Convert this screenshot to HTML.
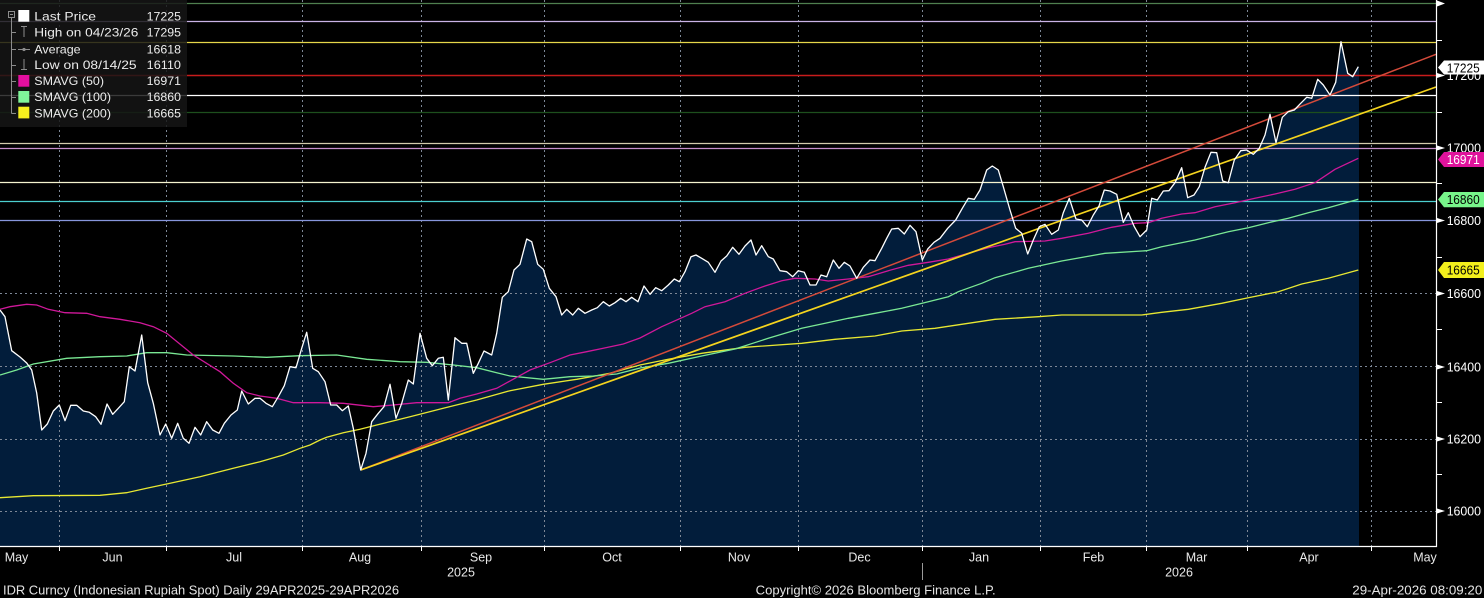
<!DOCTYPE html>
<html>
<head>
<meta charset="utf-8">
<style>
html,body{margin:0;padding:0;background:#000;}
body{width:1484px;height:598px;overflow:hidden;}
svg{display:block;}
text{font-family:"Liberation Sans","DejaVu Sans",sans-serif;}
</style>
</head>
<body>
<svg width="1484" height="598" viewBox="0 0 1484 598" xmlns="http://www.w3.org/2000/svg">
<rect x="0" y="0" width="1484" height="598" fill="#000"/>

<!-- price area fill -->
<polygon fill="#021d3b" points="0,310 5,316.7 11.7,350.7 20,357 26.7,363 31.7,370 36.7,393 41.7,430 47.3,424 53.3,411 59.3,405 65,420.7 70.7,405.3 76.7,405.3 83.3,411 89.3,412.3 95.7,416.7 101,424.3 107,404 112.7,414.3 118.3,408.3 124.3,401.7 129.3,366.7 135,371 141.7,335 147.7,382.7 153.3,403.3 160,435 165.7,424 171.7,438.3 177.7,423.3 183.3,438.3 189,443.3 195,427.3 200.7,435 206.7,421.7 212.7,430 219,433.3 224.3,423.3 231,415 237.3,410 241.7,391 248.3,404 255,398.3 260,398.3 266,403.3 272.3,406.7 278.3,396.7 284.3,385.7 290,366.7 296,367.7 301.7,348.3 306.7,332.3 312.7,368.3 318.3,371.7 325,381.7 330.7,405 336.7,405 342.3,410.7 348.3,406 353.3,428.3 360.7,470 366,453.3 371.7,421.7 378.3,413.3 384,406.7 390,384.3 396,418.3 401.7,403.3 408.3,380 413.3,384 420,333.3 426.7,358.3 432.3,365.7 438.3,358.3 443.3,357.3 448.3,400 455,337.7 461.7,343.3 466.7,343.3 473.3,373.3 478.3,363.3 484,351 491.7,355 496.7,333.3 502.3,297.3 508.3,291.7 514,270 520,264.3 526.7,239 531.7,241.7 537.7,264.3 543.3,269.3 549.3,288.3 556,296.7 561.7,315 566.7,309.3 572.7,315 578.3,308.3 585,313.3 591.7,310 597.3,307.7 603.3,301.7 609.3,306 615,302.7 620.7,298.3 626,301.7 631.7,297.3 638,301.7 644,286 650,294.3 655.7,287.7 661.7,290.7 668.3,285 674.3,279 679.3,281.7 685,271.7 691,256.7 696,255 701.7,258.3 708.3,262.3 715,272.3 721,261 726.7,256 732.7,247.3 739,254.3 745,246 751,240 756,255 761.7,245.7 768.3,256.7 773.3,259 780,270.7 786.7,271.7 792.7,276.7 798.3,270.7 804.3,272.3 810,285 816,285 821,275 826.7,276.7 833.3,260 839,268.3 844.3,262.3 850,266 856.7,278.3 863.3,267.3 870,260 875,260.7 881.7,248.3 886.7,238.3 891.7,229 898.3,228.3 904.3,234 910,225.3 916,231.7 922.3,260 927.7,249 934,242.3 940,238.3 947.7,228.3 955.7,220 962.3,208.3 968.3,198.3 974.3,199.3 980,190 986.7,170 992.3,166 998.3,170 1003.3,186.7 1010,210 1015.7,228.3 1021.7,233.3 1027.7,254 1033.3,240 1039.3,226.7 1045,224.3 1051.7,234.3 1058.3,230 1063.3,212.7 1069.3,198.3 1076,219 1081.7,220 1087.3,226.7 1093.3,215 1099,206 1104.3,190 1110,191 1116.7,194.3 1123.3,222.3 1128.3,212.7 1134.3,226.7 1140,236.7 1146.7,230 1151.7,198.3 1157.3,200 1163.3,191 1169,190.7 1175,182.7 1181.7,167.7 1187.7,197.7 1194,195 1199.3,186.7 1205,167.3 1211,152.3 1216.7,152.7 1222.7,181 1228.3,182.7 1234.3,160 1240.7,150.7 1246.7,150 1253.3,154.3 1259.3,148.3 1265,135 1270,114.3 1276,142.7 1282.3,117.3 1288.3,111.7 1294.3,110 1300.7,103.3 1306.7,97.3 1311.7,98.3 1317.7,79.3 1323.3,85 1330,95 1335.7,82.3 1341,41.7 1347.7,73.3 1352.7,76.7 1358.3,66.7 1359,66 1359,546 0,546"/>

<!-- grid -->
<g stroke="#7d8796" stroke-width="1" stroke-dasharray="2,3" fill="none">
<line x1="0" y1="511.5" x2="1436" y2="511.5"/>
<line x1="0" y1="439.5" x2="1436" y2="439.5"/>
<line x1="0" y1="366.5" x2="1436" y2="366.5"/>
<line x1="0" y1="293.5" x2="1436" y2="293.5"/>
<line x1="0" y1="220.5" x2="1436" y2="220.5"/>
<line x1="0" y1="148.5" x2="1436" y2="148.5"/>
<line x1="0" y1="75.5" x2="1436" y2="75.5"/>
<line x1="59.5" y1="0" x2="59.5" y2="546"/>
<line x1="166.5" y1="0" x2="166.5" y2="546"/>
<line x1="302.5" y1="0" x2="302.5" y2="546"/>
<line x1="421.5" y1="0" x2="421.5" y2="546"/>
<line x1="544.5" y1="0" x2="544.5" y2="546"/>
<line x1="680.5" y1="0" x2="680.5" y2="546"/>
<line x1="798.5" y1="0" x2="798.5" y2="546"/>
<line x1="922.5" y1="0" x2="922.5" y2="546"/>
<line x1="1040.5" y1="0" x2="1040.5" y2="546"/>
<line x1="1146.5" y1="0" x2="1146.5" y2="546"/>
<line x1="1247.5" y1="0" x2="1247.5" y2="546"/>
<line x1="1371.5" y1="0" x2="1371.5" y2="546"/>
</g>

<!-- horizontal level lines -->
<g stroke-width="1.2" fill="none">
<line x1="0" y1="3.5" x2="1436" y2="3.5" stroke="#4f7f4f"/>
<line x1="0" y1="21.5" x2="1436" y2="21.5" stroke="#c9b3e6"/>
<line x1="0" y1="42.5" x2="1436" y2="42.5" stroke="#e6d64a"/>
<line x1="0" y1="75.5" x2="1436" y2="75.5" stroke="#c81c1c" stroke-width="1.6"/>
<line x1="0" y1="95.5" x2="1436" y2="95.5" stroke="#ffffff"/>
<line x1="0" y1="112.5" x2="1436" y2="112.5" stroke="#1d4f1d"/>
<line x1="0" y1="143.5" x2="1436" y2="143.5" stroke="#d4ccac"/>
<line x1="0" y1="148.5" x2="1436" y2="148.5" stroke="#c68fc9"/>
<line x1="0" y1="182.5" x2="1436" y2="182.5" stroke="#f5f3cf"/>
<line x1="0" y1="201.5" x2="1436" y2="201.5" stroke="#4ccfcf"/>
<line x1="0" y1="220.5" x2="1436" y2="220.5" stroke="#8796db"/>
</g>

<!-- SMA 200 -->
<polyline fill="none" stroke="#e8e832" stroke-width="1.3" points="0,497.7 33.3,495.7 100,495.3 126.7,492.7 146.7,488.3 166.7,484 200,476.7 233.3,468.3 260,461.7 283.3,455 300,448.3 310,445 320,440 326.7,437.3 343.3,432.7 360,429.3 376.7,425 410,416.7 443.3,408.3 476.7,400 510,390.7 543.3,384.3 576.7,379.3 610,373.3 640,365 668.3,359.3 701.7,353.3 745,347.3 801.7,343.3 835,339.3 875,336 901.7,331 935,328.3 968.3,323.3 995,319.3 1038.3,316.7 1061.7,315 1141.7,315 1161.7,312.3 1188.3,309.3 1221.7,303.3 1248.3,297.7 1278.3,291.7 1301.7,284 1328.3,278.3 1358.3,270"/>
<!-- SMA 100 -->
<polyline fill="none" stroke="#7ae894" stroke-width="1.3" points="0,375 16.7,370 33.3,364 66.7,358.3 100,356.7 126.7,356 146.7,352.7 166.7,352.7 186.7,355 233.3,356 266.7,357.3 300,355.7 336.7,355 366.7,359.3 400,361.7 426.7,362.3 453.3,365 476.7,367.7 496.7,372.7 510,376 543.3,379.3 570,376.7 593.3,376 616.7,374 640,368 668.3,363.3 701.7,356 735,349 768.3,338.3 801.7,328.3 821.7,324 848.3,318.3 875,313.3 901.7,308.3 928.3,301.7 948.3,296.7 958.3,291.7 981.7,283.3 995,277.7 1028.3,268.3 1061.7,261 1105,253.3 1146.7,250.7 1161.7,246.7 1195,240 1228.3,231.7 1248.3,227.7 1268.3,222.7 1288.3,218.3 1308.3,212.7 1328.3,207.7 1358.3,199.3"/>
<!-- SMA 50 -->
<polyline fill="none" stroke="#d0189a" stroke-width="1.3" points="0,309.3 10,306.7 26.7,304.3 36.7,305 48.3,309.3 65,312.7 86.7,313.3 100,316.7 120,319.3 140,322.7 153.3,326.7 166.7,333.3 193.3,355 220,371.7 233.3,383.3 246.7,392.7 260,396 276.7,398.3 293.3,402.7 320,402.7 343.3,403.3 373.3,406.7 393.3,405 416.7,402.7 448.3,402.7 460,398.3 476.7,394 496.7,388.3 516.7,377.3 530,370 550,362.7 570,355 586.7,351.7 603.3,348.3 623.3,344 640,338 661.7,326.7 678.3,319.3 691.7,313.3 705,306.7 725,301.7 745,293.3 765,286 781.7,280.7 795,278.3 815,279 828.3,281 848.3,279 868.3,276.7 888.3,270.7 908.3,265.3 928.3,262.3 948.3,259 968.3,253.3 988.3,247.7 1005,244.3 1015,241.7 1045,241 1061.7,238.3 1088.3,233.3 1111.7,227.3 1135,223.3 1148.3,222.7 1161.7,218.3 1181.7,214 1195,212.7 1215,206.7 1235,202.7 1255,198.3 1275,194 1295,189.3 1315,182.7 1335,169.3 1358.3,158.3"/>

<!-- trend lines -->
<line x1="360.7" y1="470" x2="1436" y2="54.3" stroke="#d44a3a" stroke-width="1.5"/>
<line x1="360.7" y1="470" x2="1436" y2="87" stroke="#f5d41e" stroke-width="1.7"/>

<!-- price line -->
<polyline fill="none" stroke="#ffffff" stroke-width="1.3" stroke-linejoin="round" points="0,310 5,316.7 11.7,350.7 20,357 26.7,363 31.7,370 36.7,393 41.7,430 47.3,424 53.3,411 59.3,405 65,420.7 70.7,405.3 76.7,405.3 83.3,411 89.3,412.3 95.7,416.7 101,424.3 107,404 112.7,414.3 118.3,408.3 124.3,401.7 129.3,366.7 135,371 141.7,335 147.7,382.7 153.3,403.3 160,435 165.7,424 171.7,438.3 177.7,423.3 183.3,438.3 189,443.3 195,427.3 200.7,435 206.7,421.7 212.7,430 219,433.3 224.3,423.3 231,415 237.3,410 241.7,391 248.3,404 255,398.3 260,398.3 266,403.3 272.3,406.7 278.3,396.7 284.3,385.7 290,366.7 296,367.7 301.7,348.3 306.7,332.3 312.7,368.3 318.3,371.7 325,381.7 330.7,405 336.7,405 342.3,410.7 348.3,406 353.3,428.3 360.7,470 366,453.3 371.7,421.7 378.3,413.3 384,406.7 390,384.3 396,418.3 401.7,403.3 408.3,380 413.3,384 420,333.3 426.7,358.3 432.3,365.7 438.3,358.3 443.3,357.3 448.3,400 455,337.7 461.7,343.3 466.7,343.3 473.3,373.3 478.3,363.3 484,351 491.7,355 496.7,333.3 502.3,297.3 508.3,291.7 514,270 520,264.3 526.7,239 531.7,241.7 537.7,264.3 543.3,269.3 549.3,288.3 556,296.7 561.7,315 566.7,309.3 572.7,315 578.3,308.3 585,313.3 591.7,310 597.3,307.7 603.3,301.7 609.3,306 615,302.7 620.7,298.3 626,301.7 631.7,297.3 638,301.7 644,286 650,294.3 655.7,287.7 661.7,290.7 668.3,285 674.3,279 679.3,281.7 685,271.7 691,256.7 696,255 701.7,258.3 708.3,262.3 715,272.3 721,261 726.7,256 732.7,247.3 739,254.3 745,246 751,240 756,255 761.7,245.7 768.3,256.7 773.3,259 780,270.7 786.7,271.7 792.7,276.7 798.3,270.7 804.3,272.3 810,285 816,285 821,275 826.7,276.7 833.3,260 839,268.3 844.3,262.3 850,266 856.7,278.3 863.3,267.3 870,260 875,260.7 881.7,248.3 886.7,238.3 891.7,229 898.3,228.3 904.3,234 910,225.3 916,231.7 922.3,260 927.7,249 934,242.3 940,238.3 947.7,228.3 955.7,220 962.3,208.3 968.3,198.3 974.3,199.3 980,190 986.7,170 992.3,166 998.3,170 1003.3,186.7 1010,210 1015.7,228.3 1021.7,233.3 1027.7,254 1033.3,240 1039.3,226.7 1045,224.3 1051.7,234.3 1058.3,230 1063.3,212.7 1069.3,198.3 1076,219 1081.7,220 1087.3,226.7 1093.3,215 1099,206 1104.3,190 1110,191 1116.7,194.3 1123.3,222.3 1128.3,212.7 1134.3,226.7 1140,236.7 1146.7,230 1151.7,198.3 1157.3,200 1163.3,191 1169,190.7 1175,182.7 1181.7,167.7 1187.7,197.7 1194,195 1199.3,186.7 1205,167.3 1211,152.3 1216.7,152.7 1222.7,181 1228.3,182.7 1234.3,160 1240.7,150.7 1246.7,150 1253.3,154.3 1259.3,148.3 1265,135 1270,114.3 1276,142.7 1282.3,117.3 1288.3,111.7 1294.3,110 1300.7,103.3 1306.7,97.3 1311.7,98.3 1317.7,79.3 1323.3,85 1330,95 1335.7,82.3 1341,41.7 1347.7,73.3 1352.7,76.7 1358.3,66.7"/>

<!-- legend -->
<rect x="0" y="0" width="187" height="127" fill="#161616" fill-opacity="0.84"/>
<g stroke="#8c8c8c" stroke-width="1" fill="none">
<rect x="8.5" y="11.5" width="6" height="6"/>
<line x1="10" y1="14.5" x2="13" y2="14.5"/>
<line x1="11.5" y1="18" x2="11.5" y2="113.5"/>
<line x1="11.5" y1="32.5" x2="16" y2="32.5"/>
<line x1="11.5" y1="49.5" x2="16" y2="49.5"/>
<line x1="11.5" y1="65.5" x2="16" y2="65.5"/>
<line x1="11.5" y1="81.5" x2="16" y2="81.5"/>
<line x1="11.5" y1="97.5" x2="16" y2="97.5"/>
<line x1="11.5" y1="113.5" x2="16" y2="113.5"/>
<line x1="21" y1="26.5" x2="27" y2="26.5"/>
<line x1="24" y1="26.5" x2="24" y2="37"/>
<line x1="18" y1="49.5" x2="30" y2="49.5"/>
<line x1="24" y1="59" x2="24" y2="69.5"/>
<line x1="21" y1="69.5" x2="27" y2="69.5"/>
</g>
<circle cx="24" cy="49.5" r="1.6" fill="#8c8c8c"/>
<rect x="18.3" y="10" width="11" height="11.7" fill="#ffffff"/>
<rect x="18.3" y="75" width="11" height="11.7" fill="#e40fa0"/>
<rect x="18.3" y="91" width="11" height="11.7" fill="#80f59a"/>
<rect x="18.3" y="106.7" width="11" height="11.7" fill="#f7f01e"/>
<g fill="#ececec" font-size="12" lengthAdjust="spacingAndGlyphs">
<text x="34.3" y="20.7" textLength="61.7" lengthAdjust="spacingAndGlyphs">Last Price</text>
<text x="34.3" y="36.7" textLength="104" lengthAdjust="spacingAndGlyphs">High on 04/23/26</text>
<text x="34.3" y="53.3" textLength="46.3" lengthAdjust="spacingAndGlyphs">Average</text>
<text x="34.3" y="69" textLength="102.3" lengthAdjust="spacingAndGlyphs">Low on 08/14/25</text>
<text x="34.3" y="85" textLength="69.7" lengthAdjust="spacingAndGlyphs">SMAVG (50)</text>
<text x="34.3" y="101" textLength="76.7" lengthAdjust="spacingAndGlyphs">SMAVG (100)</text>
<text x="34.3" y="117.3" textLength="76.7" lengthAdjust="spacingAndGlyphs">SMAVG (200)</text>
<text x="146.7" y="20.7" textLength="34.3" lengthAdjust="spacingAndGlyphs">17225</text>
<text x="146.7" y="36.7" textLength="34.3" lengthAdjust="spacingAndGlyphs">17295</text>
<text x="146.7" y="53.3" textLength="34.3" lengthAdjust="spacingAndGlyphs">16618</text>
<text x="146.7" y="69" textLength="34.3" lengthAdjust="spacingAndGlyphs">16110</text>
<text x="146.7" y="85" textLength="34.3" lengthAdjust="spacingAndGlyphs">16971</text>
<text x="146.7" y="101" textLength="34.3" lengthAdjust="spacingAndGlyphs">16860</text>
<text x="146.7" y="117.3" textLength="34.3" lengthAdjust="spacingAndGlyphs">16665</text>
</g>

<!-- axes -->
<line x1="1436.5" y1="0" x2="1436.5" y2="547" stroke="#ffffff" stroke-width="1.2"/>
<line x1="0" y1="546.5" x2="1437" y2="546.5" stroke="#ffffff" stroke-width="1.2"/>
<!-- x ticks -->
<g stroke="#ffffff" stroke-width="1">
<line x1="59.5" y1="546" x2="59.5" y2="551"/>
<line x1="166.5" y1="546" x2="166.5" y2="551"/>
<line x1="302.5" y1="546" x2="302.5" y2="551"/>
<line x1="421.5" y1="546" x2="421.5" y2="551"/>
<line x1="544.5" y1="546" x2="544.5" y2="551"/>
<line x1="680.5" y1="546" x2="680.5" y2="551"/>
<line x1="798.5" y1="546" x2="798.5" y2="551"/>
<line x1="922.5" y1="546" x2="922.5" y2="551"/>
<line x1="1040.5" y1="546" x2="1040.5" y2="551"/>
<line x1="1146.5" y1="546" x2="1146.5" y2="551"/>
<line x1="1247.5" y1="546" x2="1247.5" y2="551"/>
<line x1="1371.5" y1="546" x2="1371.5" y2="551"/>
</g>
<line x1="922.5" y1="563" x2="922.5" y2="580" stroke="#9a9a9a" stroke-width="1"/>

<!-- y minor ticks -->
<g stroke="#ffffff" stroke-width="1">
<line x1="1436" y1="40.5" x2="1442" y2="40.5"/>
<line x1="1436" y1="112.5" x2="1442" y2="112.5"/>
<line x1="1436" y1="183.5" x2="1442" y2="183.5"/>
<line x1="1436" y1="257.5" x2="1442" y2="257.5"/>
<line x1="1436" y1="329.5" x2="1442" y2="329.5"/>
<line x1="1436" y1="402.5" x2="1442" y2="402.5"/>
<line x1="1436" y1="474.5" x2="1442" y2="474.5"/>
</g>
<!-- y major tick markers -->
<g fill="#ffffff">
<polygon points="1437,0.5 1445,3.5 1437,6.5"/>
<polygon points="1437,73 1445,75.5 1437,78"/>
<polygon points="1437,145.5 1445,148 1437,150.5"/>
<polygon points="1437,218 1445,220.5 1437,223"/>
<polygon points="1437,291 1445,293.5 1437,296"/>
<polygon points="1437,364.5 1445,367 1437,369.5"/>
<polygon points="1437,436.5 1445,439 1437,441.5"/>
<polygon points="1437,508.5 1445,511 1437,513.5"/>
</g>
<g fill="#ffffff" font-size="12.5">
<text x="1446.7" y="80" textLength="34.3" lengthAdjust="spacingAndGlyphs">17200</text>
<text x="1446.7" y="152.5" textLength="34.3" lengthAdjust="spacingAndGlyphs">17000</text>
<text x="1446.7" y="225" textLength="34.3" lengthAdjust="spacingAndGlyphs">16800</text>
<text x="1446.7" y="297.8" textLength="34.3" lengthAdjust="spacingAndGlyphs">16600</text>
<text x="1446.7" y="371.5" textLength="34.3" lengthAdjust="spacingAndGlyphs">16400</text>
<text x="1446.7" y="443.5" textLength="34.3" lengthAdjust="spacingAndGlyphs">16200</text>
<text x="1446.7" y="515.5" textLength="34.3" lengthAdjust="spacingAndGlyphs">16000</text>
</g>

<!-- value boxes -->
<polygon points="1438,67.5 1444,60.5 1484,60.5 1484,74.5 1444,74.5" fill="#ffffff"/>
<text x="1446.7" y="72.3" font-size="12.5" fill="#000" textLength="33" lengthAdjust="spacingAndGlyphs">17225</text>
<polygon points="1438,159.5 1444,152 1484,152 1484,167 1444,167" fill="#e0139c"/>
<text x="1446.7" y="164" font-size="12.5" fill="#ffffff" textLength="33" lengthAdjust="spacingAndGlyphs">16971</text>
<polygon points="1438,199.5 1444,192 1484,192 1484,207.3 1444,207.3" fill="#77f58a"/>
<text x="1446.7" y="204.2" font-size="12.5" fill="#000" textLength="33" lengthAdjust="spacingAndGlyphs">16860</text>
<polygon points="1438,270 1444,262 1484,262 1484,278 1444,278" fill="#f2ef1c"/>
<text x="1446.7" y="274.7" font-size="12.5" fill="#000" textLength="33" lengthAdjust="spacingAndGlyphs">16665</text>

<!-- month labels -->
<g fill="#e8e8e8" font-size="12.5" text-anchor="middle">
<text x="16.5" y="561.7">May</text>
<text x="112.5" y="561.7">Jun</text>
<text x="234" y="561.7">Jul</text>
<text x="360" y="561.7">Aug</text>
<text x="481" y="561.7">Sep</text>
<text x="612" y="561.7">Oct</text>
<text x="739" y="561.7">Nov</text>
<text x="859.5" y="561.7">Dec</text>
<text x="979" y="561.7">Jan</text>
<text x="1093.5" y="561.7">Feb</text>
<text x="1196.5" y="561.7">Mar</text>
<text x="1309" y="561.7">Apr</text>
<text x="1425" y="561.7">May</text>
<text x="461" y="576.7">2025</text>
<text x="1179" y="576.7">2026</text>
</g>

<!-- footer -->
<g fill="#e4e4e4" font-size="12.5">
<text x="3" y="594.3" textLength="396" lengthAdjust="spacingAndGlyphs">IDR Curncy (Indonesian Rupiah Spot) Daily 29APR2025-29APR2026</text>
<text x="755.7" y="594.3" textLength="240" lengthAdjust="spacingAndGlyphs">Copyright© 2026 Bloomberg Finance L.P.</text>
<text x="1352.3" y="594.3" textLength="130" lengthAdjust="spacingAndGlyphs">29-Apr-2026 08:09:20</text>
</g>
</svg>
</body>
</html>
